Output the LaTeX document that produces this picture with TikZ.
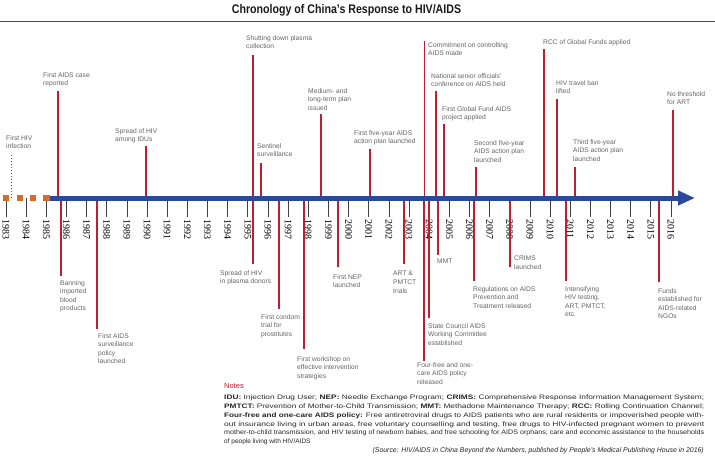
\documentclass[tikz,border=0pt]{standalone}
\usepackage{fontspec}
\setmainfont{Liberation Serif}
\setsansfont{Liberation Sans}
\usetikzlibrary{positioning, arrows.meta}
\definecolor{evred}{RGB}{190,30,45}
\definecolor{axisblue}{RGB}{44,72,156}
\definecolor{sqorange}{RGB}{214,108,40}
\definecolor{labgray}{RGB}{100,100,100}
\newcommand{\noteline}[1]{\resizebox{480pt}{\height}{#1}}

\begin{document}
\begin{tikzpicture}
    [
        x=1pt, y=-1pt,
        evt/.style={line width=1.6pt, color=evred},
        evlabel/.style={anchor=north west, inner sep=0pt, align=left, text=labgray, font=\sffamily\fontsize{6.7}{8.6}\selectfont},
        yearlabel/.style={rotate=-90, anchor=west, inner sep=0pt, font=\fontsize{10}{10}\selectfont},
        tick/.style={line width=0.7pt, color=black!75, shorten <=2pt},
        sq/.style={rectangle, fill=sqorange, minimum size=6.6pt, inner sep=0pt},
    ]
        \useasboundingbox (0,0) rectangle (715,456);
        \node[anchor=base, inner sep=0pt, text=black!90, font=\sffamily\bfseries\fontsize{12.5}{14}\selectfont] (title) at (346.5,13.3) {\scalebox{0.85}[1]{Chronology of China’s Response to HIV/AIDS}};
        \draw[line width=1pt, color=black!70] (0,21) -- (715,21) ;

        \coordinate (axis) at (50,198) ;
        \coordinate (axisend) at (695,198) ;
        \foreach \yr [count=\i from 0] in {1983,...,2016}
        {
            \node[yearlabel] (y\yr) at (6+20.15*\i,219) {\yr} ;
            \draw[tick] (y\yr.west) -- (y\yr.west |- axis) ;
        }

        \coordinate (hivinf) at (11,153) ;
        \coordinate (aidscase) at (58,91) ;
        \coordinate (idus) at (146,146) ;
        \coordinate (plasmastop) at (253,55) ;
        \coordinate (sentinel) at (261,163) ;
        \coordinate (midplan) at (321,114) ;
        \coordinate (fiveyr1) at (370,149) ;
        \coordinate (commit) at (424.5,41) ;
        \coordinate (seniorconf) at (436,91) ;
        \coordinate (gfproj) at (444,124) ;
        \coordinate (fiveyr2) at (476,167) ;
        \coordinate (rcc) at (544,49) ;
        \coordinate (travelban) at (557,99) ;
        \coordinate (fiveyr3) at (575,167) ;
        \coordinate (nothresh) at (673,110) ;
        \coordinate (blood) at (61,276) ;
        \coordinate (survpolicy) at (97,329) ;
        \coordinate (plasmadonors) at (253,264) ;
        \coordinate (condom) at (279,309) ;
        \coordinate (workshop) at (304,349) ;
        \coordinate (nep) at (338,267) ;
        \coordinate (artpmtct) at (404,264) ;
        \coordinate (fourfree) at (424,361) ;
        \coordinate (council) at (429,318) ;
        \coordinate (mmt) at (438,255) ;
        \coordinate (regul) at (474,281) ;
        \coordinate (crims) at (510,267) ;
        \coordinate (intensify) at (566,281) ;
        \coordinate (ngofunds) at (659,282) ;

        \draw[evt, line width=1pt, dotted] (hivinf |- axis) -- (hivinf) ;
        \foreach \ev in {aidscase, idus, plasmastop, sentinel, midplan, fiveyr1, commit, seniorconf, gfproj, fiveyr2, rcc, travelban, fiveyr3, nothresh, blood, survpolicy, plasmadonors, condom, workshop, nep, artpmtct, fourfree, council, mmt, regul, crims, intensify, ngofunds}
            \draw[evt] (\ev |- axis) -- (\ev) ;

        \node[evlabel] (l-hivinf) at (6,135) {First HIV\\infection} ;
        \node[evlabel] (l-aidscase) at (43,72) {First AIDS case\\reported} ;
        \node[evlabel] (l-idus) at (115,128) {Spread of HIV\\among IDUs} ;
        \node[evlabel] (l-plasmastop) at (246,35) {Shutting down plasma\\collection} ;
        \node[evlabel] (l-sentinel) at (257,143) {Sentinel\\surveillance} ;
        \node[evlabel] (l-midplan) at (308,88) {Medium- and\\long-term plan\\issued} ;
        \node[evlabel] (l-fiveyr1) at (354,130) {First five-year AIDS\\action plan launched} ;
        \node[evlabel] (l-commit) at (428,42) {Commitment on controlling\\AIDS made} ;
        \node[evlabel] (l-seniorconf) at (431,73) {National senior officials’\\conference on AIDS held} ;
        \node[evlabel] (l-gfproj) at (442,106) {First Global Fund AIDS\\project applied} ;
        \node[evlabel] (l-fiveyr2) at (474,140) {Second five-year\\AIDS action plan\\launched} ;
        \node[evlabel] (l-rcc) at (543,39) {RCC of Global Funds applied} ;
        \node[evlabel] (l-travelban) at (556,80) {HIV travel ban\\lifted} ;
        \node[evlabel] (l-fiveyr3) at (573,139) {Third five-year\\AIDS action plan\\launched} ;
        \node[evlabel] (l-nothresh) at (667,91) {No threshold\\for ART} ;
        \node[evlabel] (l-blood) at (60,280) {Banning\\imported\\blood\\products} ;
        \node[evlabel] (l-survpolicy) at (98,333) {First AIDS\\surveillance\\policy\\launched} ;
        \node[evlabel] (l-plasmadonors) at (220,270) {Spread of HIV\\in plasma donors} ;
        \node[evlabel] (l-condom) at (261,314) {First condom\\trial for\\prostitutes} ;
        \node[evlabel] (l-workshop) at (297,356) {First workshop on\\effective intervention\\strategies} ;
        \node[evlabel] (l-nep) at (333,274) {First NEP\\launched} ;
        \node[evlabel] (l-artpmtct) at (393,271) {ART \&\\PMTCT\\trials} ;
        \node[evlabel] (l-fourfree) at (417,362) {Four-free and one-\\care AIDS policy\\released} ;
        \node[evlabel] (l-council) at (428,323) {State Council AIDS\\Working Committee\\established} ;
        \node[evlabel] (l-mmt) at (437,259) {MMT} ;
        \node[evlabel] (l-regul) at (473,286) {Regulations on AIDS\\Prevention and\\Treatment released} ;
        \node[evlabel] (l-crims) at (514,256) {CRIMS\\launched} ;
        \node[evlabel] (l-intensify) at (565,286) {Intensifying\\HIV testing,\\ART, PMTCT,\\etc.} ;
        \node[evlabel] (l-ngofunds) at (658,288) {Funds\\established for\\AIDS-related\\NGOs} ;

        \draw[line width=5pt, color=axisblue, -{Triangle[length=17pt, width=14pt]}] (axis) -- (axisend) ;
        \node[sq] (sq1) at (6,198) {} ;
        \node[sq] (sq2) at (20,198) {} ;
        \node[sq] (sq3) at (33,198) {} ;
        \node[sq] (sq4) at (46.7,198) {} ;

        \node[anchor=north west, inner sep=0pt, text=evred, font=\sffamily\fontsize{7.5}{9}\selectfont] (noteshead) at (224,383) {Notes} ;
        \node[anchor=north west, inner sep=0pt, align=left, text=black!85, font=\sffamily\fontsize{6.5}{8.7}\selectfont] (notes) at (224,395)
            {\noteline{\textbf{IDU:} Injection Drug User; \textbf{NEP:} Needle Exchange Program; \textbf{CRIMS:} Comprehensive Response Information Management System;}\\
            \noteline{\textbf{PMTCT:} Prevention of Mother-to-Child Transmission; \textbf{MMT:} Methadone Maintenance Therapy; \textbf{RCC:} Rolling Continuation Channel;}\\
            \noteline{\textbf{Four-free and one-care AIDS policy:} Free antiretroviral drugs to AIDS patients who are rural residents or impoverished people with-}\\
            \noteline{out insurance living in urban areas, free voluntary counselling and testing, free drugs to HIV-infected pregnant women to prevent}\\
            \noteline{mother-to-child transmission, and HIV testing of newborn babies, and free schooling for AIDS orphans; care and economic assistance to the households}\\
            of people living with HIV/AIDS} ;
        \node[anchor=north east, inner sep=0pt, text=black!85, font=\sffamily\itshape\fontsize{6.9}{8}\selectfont] (source) at (704,447)
            {(Source: HIV/AIDS in China Beyond the Numbers, published by People’s Medical Publishing House in 2016)} ;
    \end{tikzpicture}
\end{document}
